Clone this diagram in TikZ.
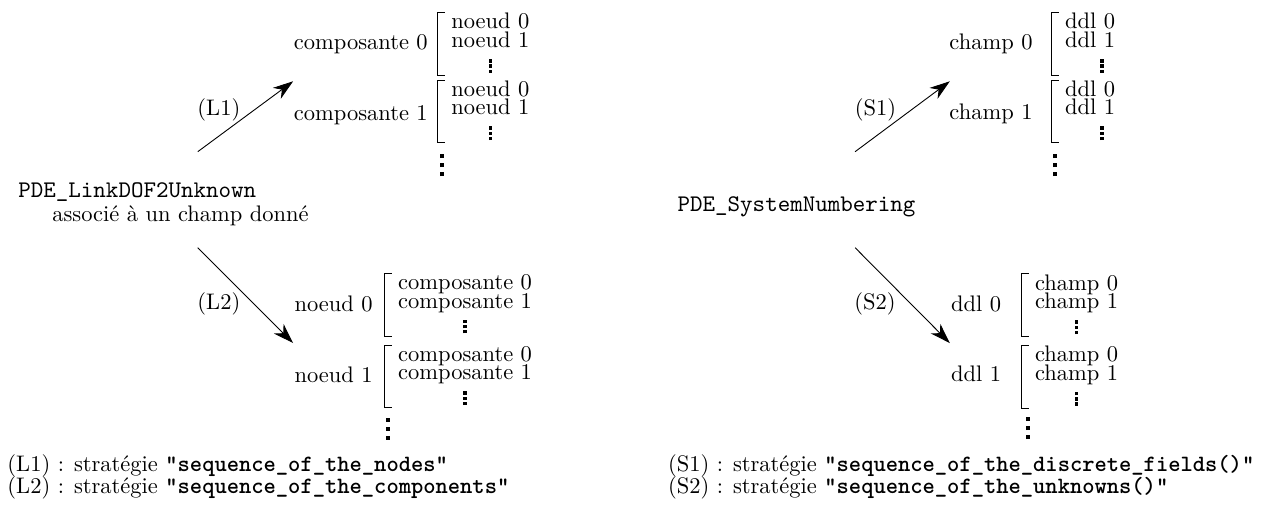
\documentclass[tikz,border=0pt]{standalone}
\usepackage{tikz}
\usetikzlibrary{arrows.meta}

\newcommand{\sqdots}[2]{\vbox{\offinterlineskip\hrule width #1 height #1\vskip #2\hrule width #1 height #1\vskip #2\hrule width #1 height #1}}
\newcommand{\subdots}{\sqdots{1.5pt}{0.8pt}}
\newcommand{\moredots}{\sqdots{1.8pt}{2.2pt}}
\newcommand{\strat}[1]{{\fontsize{10.4}{12}\selectfont\ttfamily\bfseries #1}}

\begin{document}
\begin{tikzpicture}[
  lbl/.style={inner sep=0pt},
  cls/.style={inner sep=0pt, anchor=base west, font=\fontsize{10.6}{13}\selectfont\ttfamily},
  lst/.style={anchor=north west, align=center, inner xsep=5.8pt, inner ysep=0pt, font={\fontsize{10}{8.4}\selectfont\lineskiplimit-20pt}},
  brk/.style={line width=0.4pt},
  more/.style={inner sep=0pt},
  arr/.style={-{Stealth[length=9pt,width=6pt,inset=2.8pt]}},
  leg/.style={inner sep=0pt, anchor=base west}
]
\useasboundingbox (0,0) rectangle (19.78,-7.94);

% left : PDE_LinkDOF2Unknown
\node[cls] (link) at (0.28,-3.09) {PDE\_LinkDOF2Unknown};
\node[lbl, anchor=base west] (linknote) at (0.81,-3.46) {associé à un champ donné};

% (L1) components first
\coordinate (L1a) at (3.09,-2.37);
\coordinate (L1b) at (4.58,-1.27);
\draw[arr] (L1a) -- (L1b);
\node[lbl, anchor=base] (L1lbl) at (3.42,-1.81) {(L1)};
\node[lbl, anchor=base east] (lnC0) at (6.69,-0.78) {composante 0};
\node[lbl, anchor=base east] (lnC1) at (6.69,-1.89) {composante 1};
\node[lst] (lnC0l) at (6.84,-0.20) {noeud 0\\noeud 1\\[2.8pt]\subdots};
\node[lst] (lnC1l) at (6.84,-1.25) {noeud 0\\noeud 1\\[2.8pt]\subdots};
\node[more] (lnCdots) at (6.90,-2.58) {\moredots};

% (L2) nodes first
\coordinate (L2a) at (3.09,-3.87);
\coordinate (L2b) at (4.58,-5.36);
\draw[arr] (L2a) -- (L2b);
\node[lbl, anchor=base] (L2lbl) at (3.42,-4.83) {(L2)};
\node[lbl, anchor=base east] (lnN0) at (5.83,-4.87) {noeud 0};
\node[lbl, anchor=base east] (lnN1) at (5.83,-5.97) {noeud 1};
\node[lst] (lnN0l) at (6.01,-4.28) {composante 0\\composante 1\\[2.8pt]\subdots};
\node[lst] (lnN1l) at (6.01,-5.40) {composante 0\\composante 1\\[2.8pt]\subdots};
\node[more] (lnNdots) at (6.06,-6.70) {\moredots};

% right : PDE_SystemNumbering
\node[cls] (sys) at (10.58,-3.31) {PDE\_SystemNumbering};

% (S1) fields first
\coordinate (S1a) at (13.36,-2.37);
\coordinate (S1b) at (14.84,-1.27);
\draw[arr] (S1a) -- (S1b);
\node[lbl, anchor=base] (S1lbl) at (13.68,-1.81) {(S1)};
\node[lbl, anchor=base east] (snF0) at (16.14,-0.78) {champ 0};
\node[lbl, anchor=base east] (snF1) at (16.14,-1.87) {champ 1};
\node[lst] (snF0l) at (16.43,-0.20) {ddl 0\\ddl 1\\[2.8pt]\hspace*{10.6pt}\subdots};
\node[lst] (snF1l) at (16.43,-1.25) {ddl 0\\ddl 1\\[2.8pt]\hspace*{10.6pt}\subdots};
\node[more] (snFdots) at (16.49,-2.58) {\moredots};

% (S2) unknowns first
\coordinate (S2a) at (13.36,-3.87);
\coordinate (S2b) at (14.84,-5.36);
\draw[arr] (S2a) -- (S2b);
\node[lbl, anchor=base] (S2lbl) at (13.67,-4.83) {(S2)};
\node[lbl, anchor=base east] (snD0) at (15.65,-4.87) {ddl 0};
\node[lbl, anchor=base east] (snD1) at (15.65,-5.96) {ddl 1};
\node[lst] (snD0l) at (15.96,-4.28) {champ 0\\champ 1\\[2.8pt]\subdots};
\node[lst] (snD1l) at (15.96,-5.40) {champ 0\\champ 1\\[2.8pt]\subdots};
\node[more] (snDdots) at (16.06,-6.69) {\moredots};

% brackets
\foreach \n in {lnC0l,lnC1l,lnN0l,lnN1l,snF0l,snF1l,snD0l,snD1l}
  \draw[brk] ([xshift=3.2pt]\n.north west) -- (\n.north west) -- ([yshift=-1pt]\n.south west) -- ++(3.2pt,0);

% legend
\node[leg] (legL1) at (0.11,-7.36) {(L1) : stratégie \strat{"sequence\_of\_the\_nodes"}};
\node[leg] (legL2) at (0.11,-7.71) {(L2) : stratégie \strat{"sequence\_of\_the\_components"}};
\node[leg] (legS1) at (10.43,-7.36) {(S1) : stratégie \strat{"sequence\_of\_the\_discrete\_fields()"}};
\node[leg] (legS2) at (10.43,-7.71) {(S2) : stratégie \strat{"sequence\_of\_the\_unknowns()"}};

\end{tikzpicture}
\end{document}
